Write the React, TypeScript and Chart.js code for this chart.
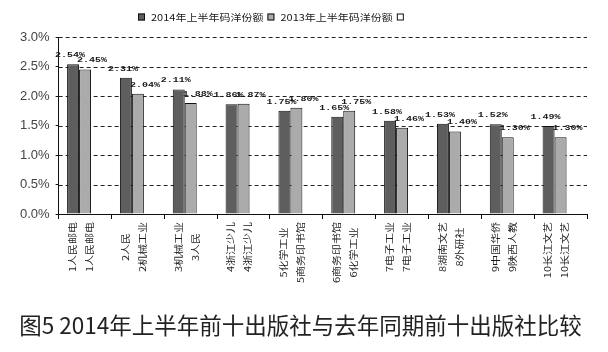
import React, { useEffect, useRef } from "react";
import { Chart, registerables } from "chart.js";

Chart.register(...registerables);

const categories: string[][] = [
  ["1人民邮电", "1人民邮电"],
  ["2人民", "2机械工业"],
  ["3机械工业", "3人民"],
  ["4浙江少儿", "4浙江少儿"],
  ["5化学工业", "5商务印书馆"],
  ["6商务印书馆", "6化学工业"],
  ["7电子工业", "7电子工业"],
  ["8湖南文艺", "8外研社"],
  ["9中国华侨", "9陕西人教"],
  ["10长江文艺", "10长江文艺"],
];
const share2014: number[] = [2.54, 2.31, 2.11, 1.86, 1.75, 1.65, 1.58, 1.53, 1.52, 1.49];
const share2013: number[] = [2.45, 2.04, 1.88, 1.87, 1.8, 1.75, 1.46, 1.4, 1.3, 1.3];
const emptySeries: (number | null)[] = [null, null, null, null, null, null, null, null, null, null];
const seriesNames: string[] = ["2014年上半年码洋份额", "2013年上半年码洋份额", ""];
const seriesColors: string[] = ["#5e5e5e", "#ababab", "#ffffff"];
const yTicks: number[] = [0, 0.5, 1, 1.5, 2, 2.5, 3];
const titleText = "图5 2014年上半年前十出版社与去年同期前十出版社比较";

const CJK = "'Noto Sans CJK SC', sans-serif";

const customDraw = {
  id: "customDraw",
  beforeDatasetsDraw(chart: any) {
    const ctx = chart.ctx;
    const ys = chart.scales.y;
    const { left, right } = chart.chartArea;
    ctx.save();
    ctx.strokeStyle = "#222";
    ctx.lineWidth = 1;
    ctx.setLineDash([4, 3]);
    yTicks.forEach((v) => {
      if (v === 0) return;
      const y = Math.round(ys.getPixelForValue(v)) + 0.5;
      ctx.beginPath();
      ctx.moveTo(left, y);
      ctx.lineTo(right, y);
      ctx.stroke();
    });
    ctx.restore();
  },
  afterDatasetsDraw(chart: any) {
    const ctx = chart.ctx;
    // value labels
    ctx.save();
    ctx.font = "bold 10px 'Liberation Mono', 'DejaVu Sans Mono', monospace";
    ctx.fillStyle = "#1a1a1a";
    ctx.textAlign = "center";
    ctx.textBaseline = "middle";
    [0, 1].forEach((di) => {
      const meta = chart.getDatasetMeta(di);
      const data = chart.data.datasets[di].data;
      meta.data.forEach((bar: any, i: number) => {
        const v = data[i];
        if (v == null) return;
        const dx = di === 0 ? -3 : 7;
        ctx.save();
        ctx.translate(bar.x + dx, bar.y - 9);
        ctx.scale(1, 0.75);
        ctx.fillText(v.toFixed(2) + "%", 0, 0);
        ctx.restore();
      });
    });
    ctx.restore();

    // category labels (rotated, two centred lines)
    const xs = chart.scales.x;
    const bottom = chart.chartArea.bottom;
    ctx.save();
    ctx.font = "11px " + CJK;
    ctx.fillStyle = "#1a1a1a";
    ctx.textAlign = "center";
    ctx.textBaseline = "middle";
    categories.forEach((lines, i) => {
      const cx = xs.getPixelForValue(i) - 4;
      const W = Math.max(...lines.map((l) => ctx.measureText(l).width));
      const cy = bottom + 8 + W / 2;
      lines.forEach((l, j) => {
        const x = cx + (j - (lines.length - 1) / 2) * 17;
        ctx.save();
        ctx.translate(x, cy);
        ctx.rotate(-Math.PI / 2);
        ctx.scale(1, 0.8);
        ctx.fillText(l, 0, 0);
        ctx.restore();
      });
    });
    ctx.restore();

    // legend
    ctx.save();
    ctx.font = "11px " + CJK;
    ctx.textBaseline = "middle";
    ctx.textAlign = "left";
    const box = 7;
    const gapText = 6;
    const gapItem = 4;
    const widths = seriesNames.map((n) => (n ? ctx.measureText(n).width : 0));
    const total = widths.reduce((a, w) => a + box + (w ? gapText + w : 0), 0) + gapItem * (seriesNames.length - 1);
    let x = Math.round(271 - total / 2);
    const cyL = 17;
    seriesNames.forEach((n, i) => {
      ctx.fillStyle = seriesColors[i];
      ctx.fillRect(x, cyL - box / 2, box, box);
      ctx.strokeStyle = "#111";
      ctx.lineWidth = 1;
      ctx.strokeRect(x + 0.5, cyL - box / 2 + 0.5, box - 1, box - 1);
      x += box;
      if (n) {
        x += gapText;
        ctx.fillStyle = "#1a1a1a";
        ctx.save();
        ctx.translate(x, cyL);
        ctx.scale(1, 0.85);
        ctx.fillText(n, 0, 0);
        ctx.restore();
        x += widths[i];
      }
      x += gapItem;
    });
    ctx.restore();
  },
};

export default function App() {
  const ref = useRef<HTMLCanvasElement | null>(null);
  useEffect(() => {
    if (!ref.current) return;
    const chart = new Chart(ref.current, {
      type: "bar",
      data: {
        labels: categories.map((c) => c.join(" / ")),
        datasets: seriesNames.map((name, k) => ({
          label: name,
          data: k === 0 ? share2014 : k === 1 ? share2013 : emptySeries,
          backgroundColor: seriesColors[k],
          borderColor: "#111",
          borderWidth: 1,
          barPercentage: 1,
          categoryPercentage: 0.68,
        })),
      },
      options: {
        animation: false,
        responsive: true,
        maintainAspectRatio: false,
        layout: { padding: { left: 14, right: 21, top: 37, bottom: 13 } },
        plugins: {
          legend: { display: false },
          title: {
            display: true,
            text: titleText,
            position: "bottom",
            color: "#222",
            font: { size: 22.5, weight: "normal", family: CJK, lineHeight: 1.2 },
            padding: { top: 0, bottom: 0 },
          },
          tooltip: { enabled: false },
        },
        scales: {
          x: {
            grid: { drawOnChartArea: false, drawTicks: true, tickLength: 5, color: "#111", offset: true },
            border: { display: true, color: "#111", width: 1 },
            ticks: { display: false },
            afterFit: (scale: any) => {
              scale.height = 98;
            },
          },
          y: {
            min: 0,
            max: 3,
            afterBuildTicks: (axis: any) => {
              axis.ticks = yTicks.map((v) => ({ value: v }));
            },
            grid: { drawOnChartArea: false, color: "#111", tickLength: 3 },
            border: { display: true, color: "#111", width: 1 },
            ticks: {
              color: "#444",
              padding: 6,
              font: { size: 13, family: "'Liberation Sans', Arial, sans-serif" },
              callback: (v: any) => Number(v).toFixed(1) + "%",
            },
          },
        },
      },
      plugins: [customDraw],
    });
    return () => chart.destroy();
  }, []);
  return (
    <div style={{ position: "fixed", left: 0, top: 0, width: 608, height: 352, background: "#fff" }}>
      <canvas ref={ref} />
    </div>
  );
}
